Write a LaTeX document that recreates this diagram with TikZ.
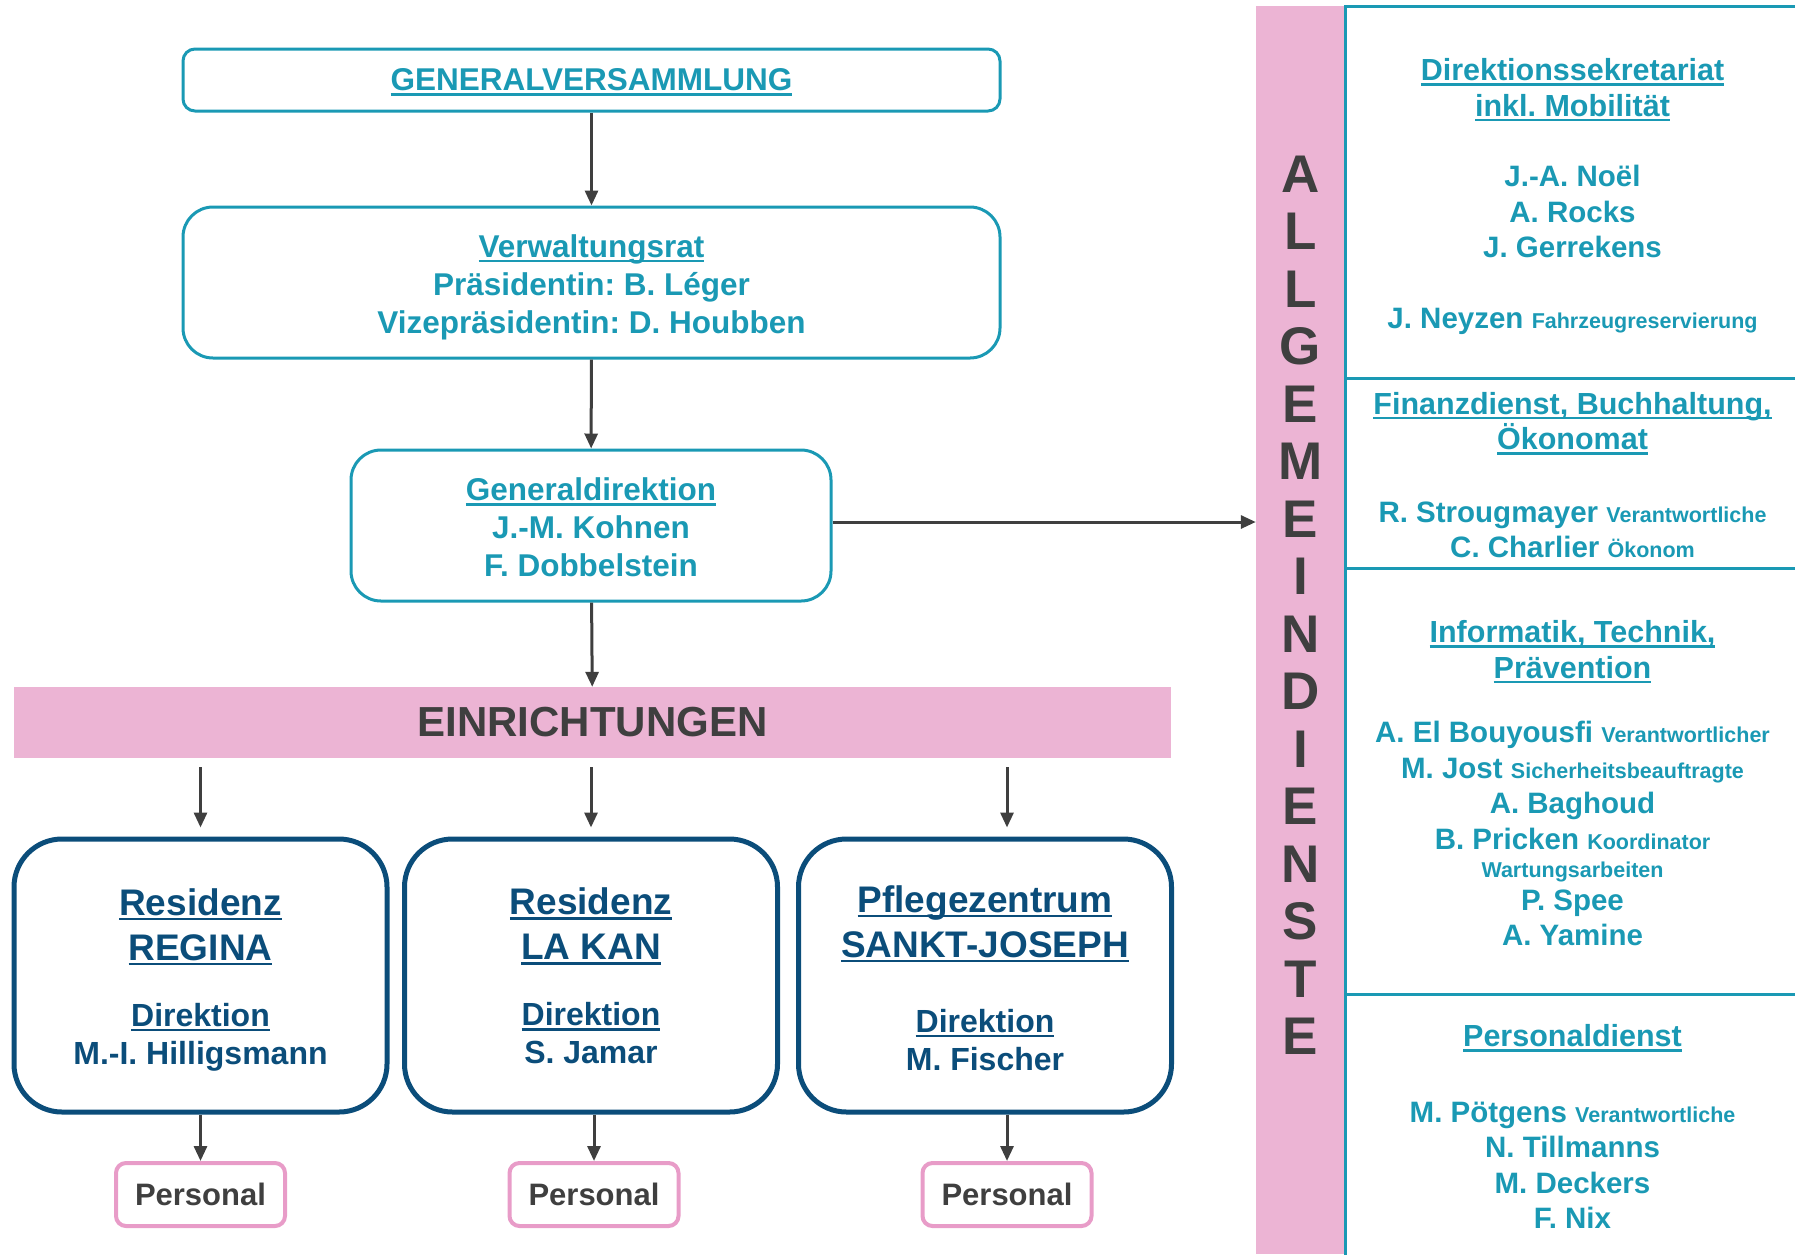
\documentclass[tikz,border=0pt]{standalone}
\usepackage{fontspec}
\setmainfont{Liberation Sans}
\usetikzlibrary{positioning,arrows.meta}
\definecolor{tuerkis}{HTML}{1A99B4}
\definecolor{dunkelblau}{HTML}{0B4D7A}
\definecolor{rosa}{HTML}{ECB4D4}
\definecolor{rosarand}{HTML}{E89CC8}
\definecolor{grau}{HTML}{3F3F3F}
\frenchspacing
\newcommand\ulin[1]{\setbox0\hbox{#1}\rlap{\smash{\rule[-5pt]{\wd0}{2.5pt}}}\box0}
\newcommand\klein[1]{{\fontsize{21.5}{25}\selectfont #1}}
\newcommand\titel[1]{{\fontsize{30.5}{36}\selectfont\ulin{#1}}}
\newcommand\normal{\fontsize{32}{39}\selectfont}
\newcommand\hoch[1]{\rule{0pt}{#1}}
\newcommand\tief[1]{\rule[-#1]{0pt}{#1}}
\tikzset{
	kasten/.style={draw=tuerkis,line width=3pt,rounded corners=30pt,text=tuerkis,align=center,font=\fontsize{31.5}{38}\selectfont\bfseries},
	haus/.style={draw=dunkelblau,line width=5pt,rounded corners=48pt,text=dunkelblau,align=center,minimum width=373pt,minimum height=273pt,font=\fontsize{37}{45}\selectfont\bfseries},
	pers/.style={draw=rosarand,line width=4pt,rounded corners=10pt,text=grau,minimum width=169pt,minimum height=63pt,font=\fontsize{31}{38}\selectfont\bfseries},
	dienst/.style={draw=tuerkis,line width=3pt,text=tuerkis,align=center,minimum width=455pt,font=\fontsize{29.5}{35.5}\selectfont\bfseries},
	pfeil/.style={->,draw=grau,line width=3pt}
}
\begin{document}
\begin{tikzpicture}[>={Stealth[inset=0pt,length=15pt,width=13pt]},x=1pt,y=-1pt]
	\useasboundingbox (0,0) rectangle (1795,1254);
	% obere Ebene
	\node[kasten,rounded corners=12pt,minimum width=817pt,minimum height=62pt] (gv) at (591.5,80) {\ulin{GENERALVERSAMMLUNG}};
	\node[kasten,minimum width=817pt,minimum height=151pt] (vr) at (591.5,282.5) {\hoch{32pt}\ulin{Verwaltungsrat}\\Präsidentin: B. Léger\\Vizepräsidentin: D. Houbben};
	\node[kasten,minimum width=480pt,minimum height=151pt] (gd) at (591,525.5) {\hoch{27pt}\ulin{Generaldirektion}\\J.-M. Kohnen\\F. Dobbelstein};
	\node[fill=rosa,minimum width=1157pt,minimum height=71pt,text=grau,font=\fontsize{42}{50}\selectfont\bfseries] (einr) at (592.5,722.5) {EINRICHTUNGEN};
	\node[fill=rosa,minimum width=89pt,minimum height=1248pt,inner sep=0pt] (allg) at (1300.5,630) {};
	\foreach \b [count=\i] in {A,L,L,G,E,M,E,I,N,D,I,E,N,S,T,E}
		\node[text=grau,font=\fontsize{53}{60}\selectfont\bfseries] (buchstabe\i) at (1300.5,{174+57.5*(\i-1)}) {\b};
	% Einrichtungen
	\node[haus] (regina) at (200.5,975.5) {\hoch{35pt}\ulin{Residenz}\\\ulin{REGINA}\\[21pt]\normal\ulin{Direktion}\\[-7pt]\normal M.-I. Hilligsmann};
	\node[haus] (lakan) at (591,975.5) {\hoch{28pt}\ulin{Residenz}\\\ulin{LA KAN}\\[21pt]\normal\ulin{Direktion}\\[-7pt]\normal S. Jamar};
	\node[haus] (sankt) at (985,975.5) {\hoch{32pt}\ulin{Pflegezentrum}\\\ulin{SANKT-JOSEPH}\\[30pt]\normal\ulin{Direktion}\\[-7pt]\normal M. Fischer};
	\node[pers] (p1) at (200.5,1194.5) {Personal};
	\node[pers] (p2) at (594,1194.5) {Personal};
	\node[pers] (p3) at (1007,1194.5) {Personal};
	% allgemeine Dienste
	\node[dienst,minimum height=372pt] (sekr) at (1572.5,192) {\hoch{31.5pt}\titel{Direktionssekretariat}\\\titel{inkl. Mobilität}\\[35pt]J.-A. Noël\\A. Rocks\\J. Gerrekens\\[35pt]J. Neyzen \klein{Fahrzeugreservierung}};
	\node[dienst,minimum height=190pt] (fin) at (1572.5,473) {\hoch{26.5pt}\titel{Finanzdienst, Buchhaltung,}\\\titel{Ökonomat}\\[37pt]R. Strougmayer \klein{Verantwortliche}\\C. Charlier \klein{Ökonom}};
	\node[dienst,minimum height=426pt] (info) at (1572.5,781) {\hoch{26.5pt}\titel{Informatik, Technik,}\\\titel{Prävention}\\[29pt]A. El Bouyousfi \klein{Verantwortlicher}\\M. Jost \klein{Sicherheitsbeauftragte}\\A. Baghoud\\B. Pricken \klein{Koordinator}\\[-7pt]\klein{Wartungsarbeiten}\\[-3pt]P. Spee\\A. Yamine};
	\node[dienst,minimum height=280pt] (pd) at (1572.5,1134) {\hoch{27.5pt}\titel{Personaldienst}\\[40pt]M. Pötgens \klein{Verantwortliche}\\N. Tillmanns\\M. Deckers\\F. Nix\tief{20pt}};
	% Pfeile
	\draw[pfeil] (gv) -- (vr);
	\draw[pfeil] (vr) -- (gd);
	\draw[pfeil] (gd) -- (einr);
	\draw[pfeil] ([yshift=3.5pt]gd.east) -- ([yshift=3.5pt]gd.east -| allg.west);
	\draw[pfeil,shorten <=9pt,shorten >=9pt] (einr.south -| p1) -- (regina.north -| p1);
	\draw[pfeil,shorten <=9pt,shorten >=9pt] (einr.south -| lakan) -- (lakan.north);
	\draw[pfeil,shorten <=9pt,shorten >=9pt] (einr.south -| p3) -- (sankt.north -| p3);
	\draw[pfeil] (regina.south -| p1) -- (p1);
	\draw[pfeil] (lakan.south -| p2) -- (p2);
	\draw[pfeil] (sankt.south -| p3) -- (p3);
\end{tikzpicture}
\end{document}
